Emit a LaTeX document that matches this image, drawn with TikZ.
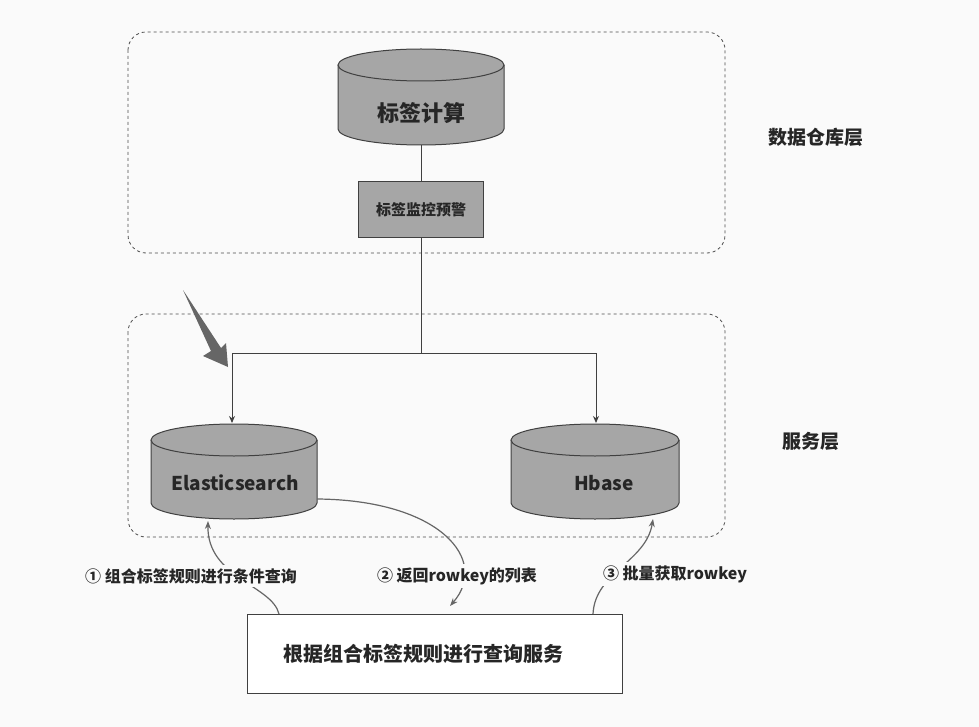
\documentclass[tikz,border=0pt]{standalone}
\usepackage{fontspec}
\setmainfont{Noto Sans CJK SC}
\usetikzlibrary{arrows.meta}
\begin{document}
\newcommand\mycyl[5]{% left, right, top y, bottom y, ry
  \pgfmathsetmacro\rx{(#2-#1)/2}\pgfmathsetmacro\cx{(#1+#2)/2}
  \draw[cyl] (#1,#3) -- (#1,#4) arc[start angle=180,end angle=0,x radius=\rx,y radius=#5] -- (#2,#3);
  \draw[cyl] (\cx,#3) ellipse[x radius=\rx,y radius=#5];
}
\begin{tikzpicture}[x=1pt,y=-1pt,
  line/.style={draw=black!75,line width=1pt},
  cyl/.style={line,fill=black!35},
  layer/.style={draw=black!70,dashed,line width=0.8pt,rounded corners=18pt},
  arr/.style={line,-{Stealth[length=7pt,width=6pt]}},
  carr/.style={draw=black!60,line width=1.2pt,-{Stealth[length=8pt,width=6pt]}},
  txt/.style={font=\bfseries,text=black!85,inner sep=1pt},
  lbl/.style={font=\bfseries\fontsize{16}{18}\selectfont,text=black!85,fill=white!98!black,inner sep=3pt}]
\useasboundingbox (0,0) rectangle (979,727);
\fill[white!98!black] (0,0) rectangle (979,727);
% layers
\draw[layer] (128,32) rectangle (725,253);
\draw[layer] (128,314) rectangle (725,537);
\node[txt,font=\bfseries\fontsize{19}{21}\selectfont] (dw) at (816,137) {数据仓库层};
\node[txt,font=\bfseries\fontsize{19}{21}\selectfont] (sv) at (811,441) {服务层};
% top cylinder
\mycyl{338}{504}{65}{129}{16}
\node[txt,font=\bfseries\fontsize{22}{24}\selectfont] (calc) at (421,113) {标签计算};
\coordinate (calcb) at (421,145);
% monitor box
\node[line,fill=black!35,minimum width=125pt,minimum height=56pt,inner sep=0pt,font=\bfseries\fontsize{15}{17}\selectfont,text=black!85] (mon) at (421,210) {标签监控预警};
\draw[line] (calcb) -- (mon.north);
% split
\coordinate (j) at (421,353);
\coordinate (jl) at (232,353);
\coordinate (jr) at (596,353);
\coordinate (esT) at (232,423);
\coordinate (hbT) at (596,423);
\draw[line] (mon.south) -- (j);
\draw[line] (jl) -- (jr);
\draw[arr] (jl) -- (esT);
\draw[arr] (jr) -- (hbT);
% pointer
\fill[black!60] (183,290) -- (221,348) -- (226,343) -- (228,367) -- (203,356) -- (211,351) -- cycle;
% ES and Hbase
\mycyl{151}{317}{440}{503}{16}
\node[txt,font=\bfseries\fontsize{19}{21}\selectfont] (es) at (235,483) {Elasticsearch};
\mycyl{511}{679}{440}{503}{16}
\node[txt,font=\bfseries\fontsize{19}{21}\selectfont] (hb) at (604,483) {Hbase};
\coordinate (esB) at (208,521);
\coordinate (esR) at (317,499);
\coordinate (hbB) at (653,519);
% bottom box
\node[draw=black!75,line width=1pt,fill=white,minimum width=375pt,minimum height=79pt,inner sep=0pt,font=\bfseries\fontsize{20}{22}\selectfont,text=black!85] (svc) at (434.5,653.5) {\hspace{-22pt}根据组合标签规则进行查询服务};
\coordinate (s1) at (279,614);
\coordinate (s2) at (450,606);
\coordinate (s3) at (593,614);
\draw[carr] (s1) .. controls (272,585) and (207,578) .. (esB);
\draw[carr] (esR) .. controls (440,500) and (490,560) .. (s2);
\draw[carr] (s3) .. controls (595,572) and (646,562) .. (hbB);
\node[lbl] (l1) at (191,576) {① 组合标签规则进行条件查询};
\node[lbl] (l2) at (457,576) {② 返回rowkey的列表};
\node[lbl] (l3) at (675,574) {③ 批量获取rowkey};
\end{tikzpicture}
\end{document}
